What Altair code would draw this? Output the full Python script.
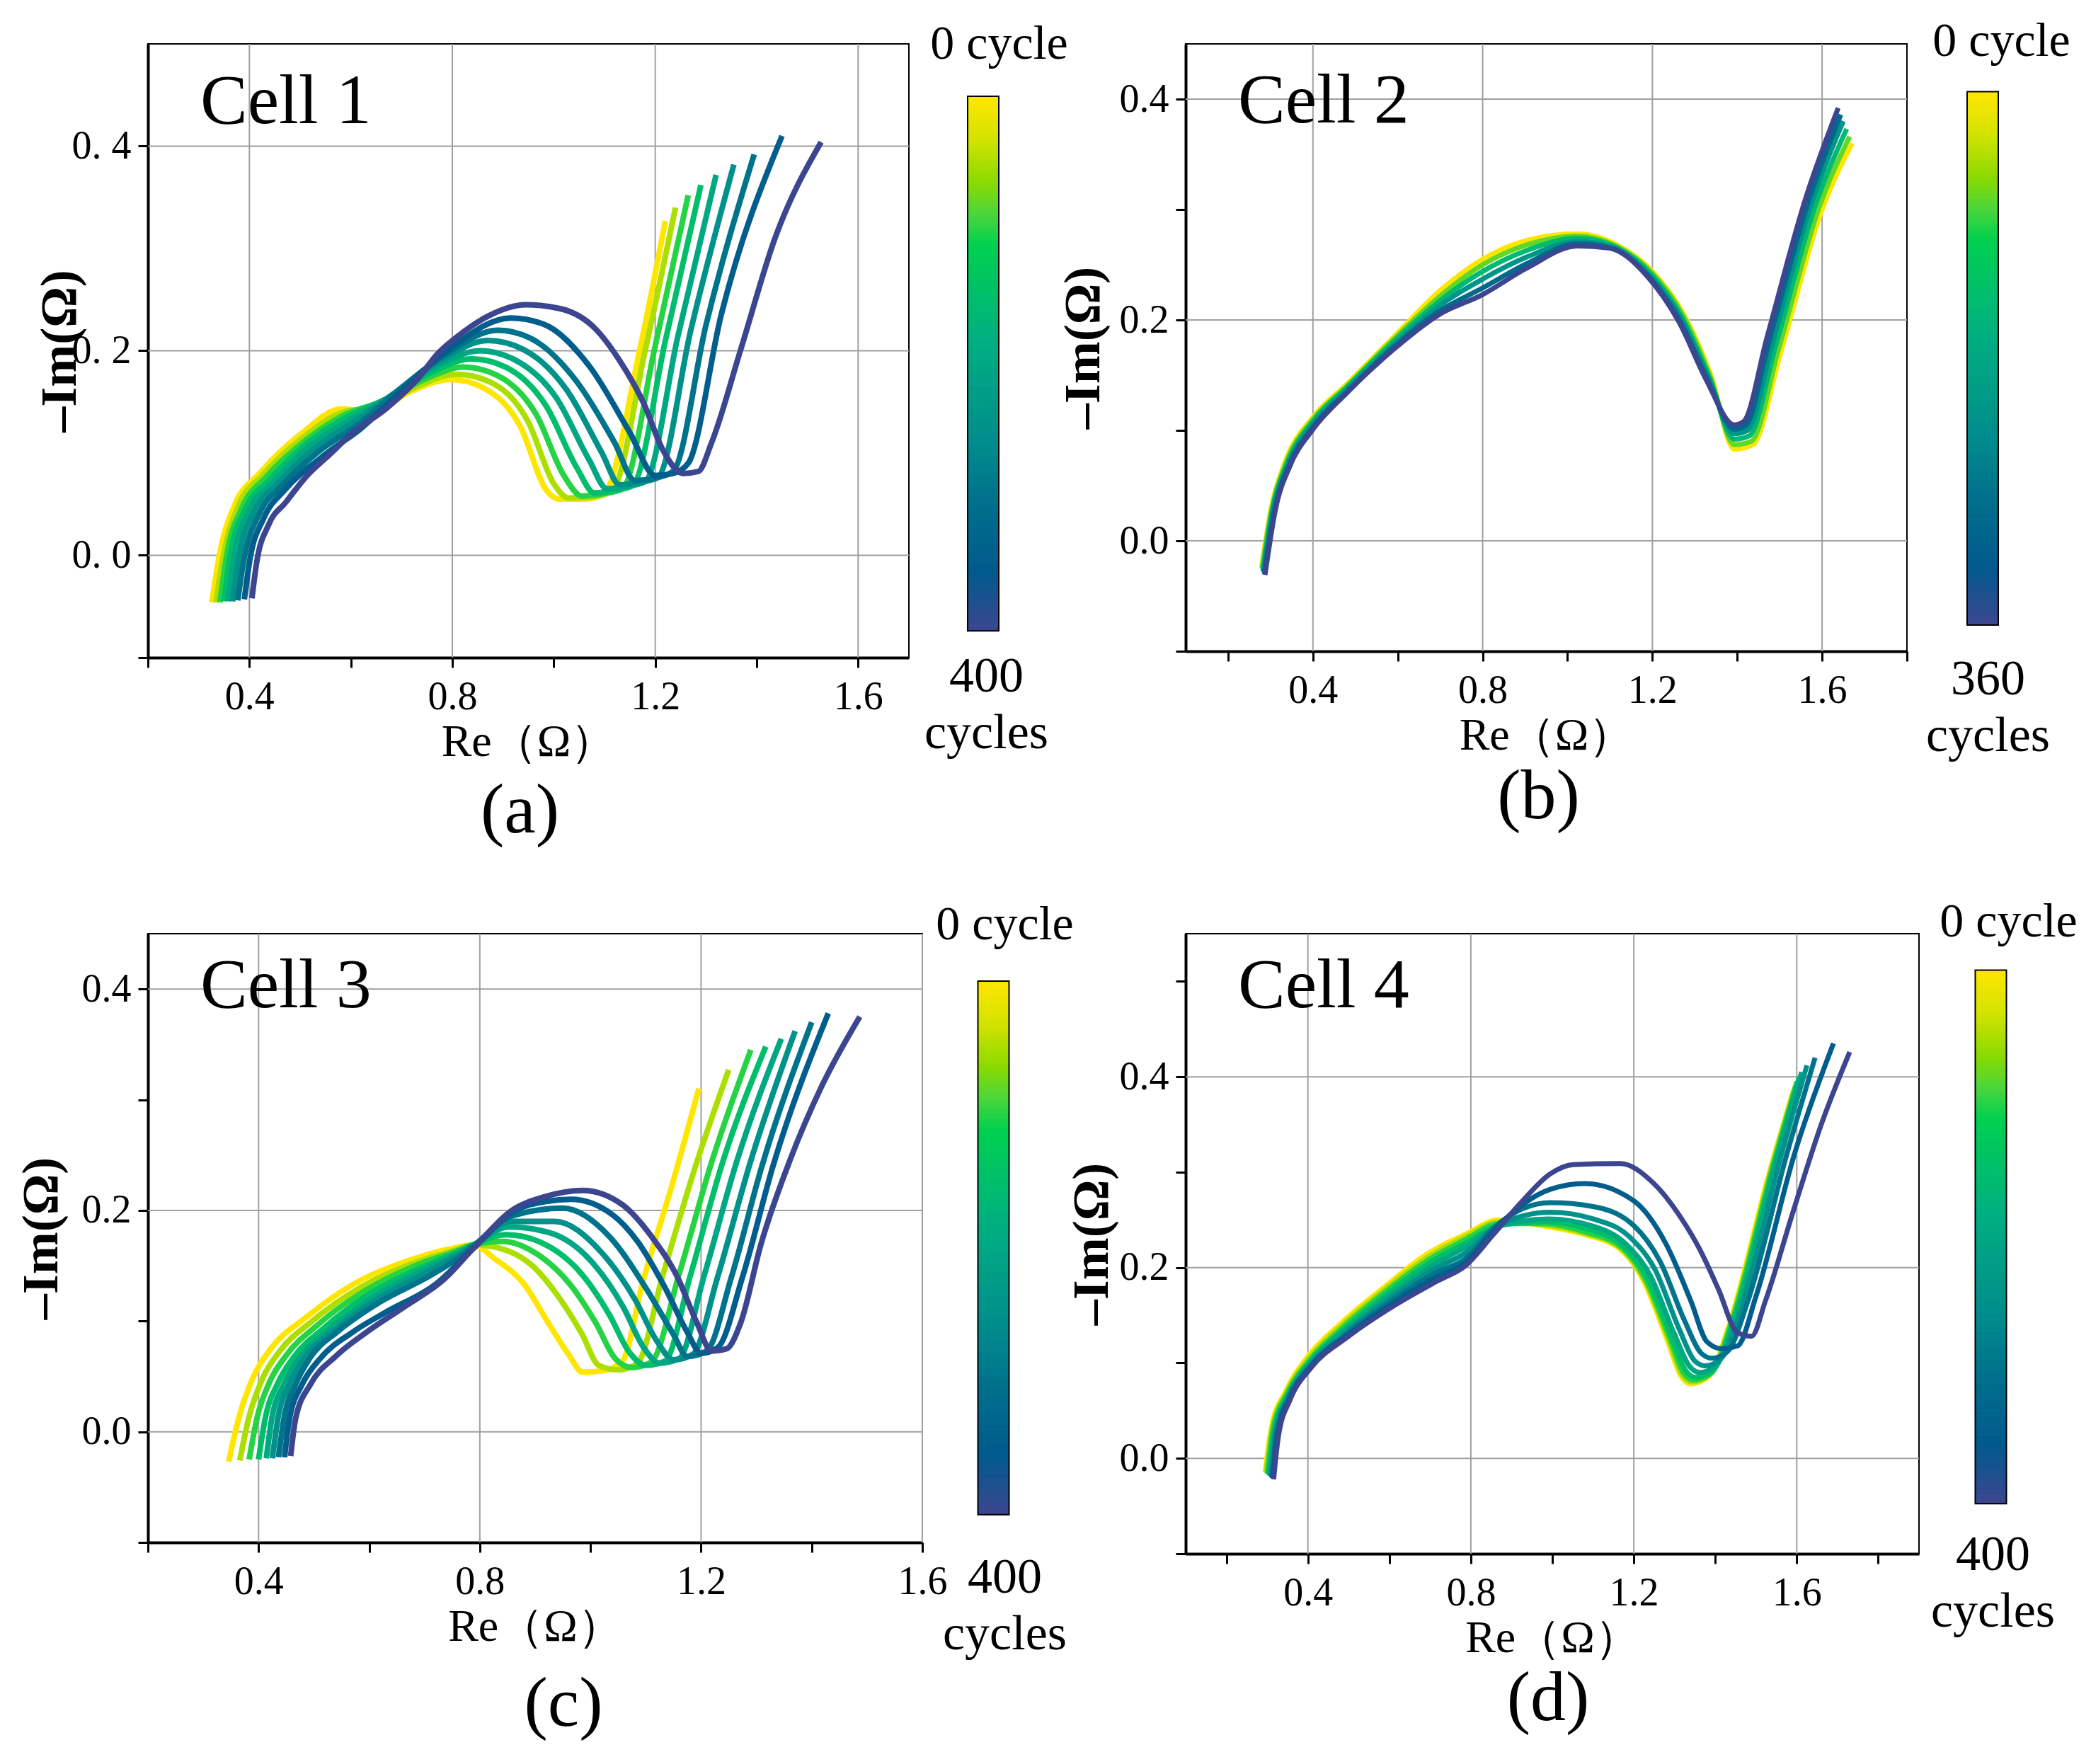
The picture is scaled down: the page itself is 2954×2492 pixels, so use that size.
import altair as alt
import pandas as pd

# ---------------- colour scale ----------------
COLOR_STOPS = [0.0, 0.08, 0.16, 0.22, 0.28, 0.45, 0.65, 0.77, 0.89, 1.0]
COLOR_HEX = ["#FFE600", "#D4E300", "#8CDA00", "#4CD63A", "#00D050",
             "#00B080", "#008C8C", "#006E8C", "#005A8C", "#3C4690"]

# ---------------- Cell 1 (0 ... 400 cycles) ----------------
C1_000_RE = [0.326, 0.342, 0.371, 0.420, 0.500, 0.582, 0.640, 0.717, 0.798, 0.860, 0.935, 0.985, 1.010, 1.062, 1.100, 1.167, 1.220]
C1_000_IM = [-0.046, 0.003, 0.049, 0.080, 0.118, 0.143, 0.140, 0.160, 0.172, 0.164, 0.125, 0.064, 0.055, 0.055, 0.061, 0.195, 0.327]
C1_050_RE = [0.334, 0.350, 0.378, 0.425, 0.505, 0.585, 0.650, 0.730, 0.808, 0.872, 0.950, 1.000, 1.030, 1.075, 1.115, 1.180, 1.240]
C1_050_IM = [-0.046, 0.003, 0.048, 0.078, 0.115, 0.140, 0.145, 0.165, 0.177, 0.170, 0.130, 0.070, 0.056, 0.057, 0.063, 0.200, 0.340]
C1_100_RE = [0.342, 0.356, 0.385, 0.432, 0.510, 0.590, 0.660, 0.745, 0.822, 0.888, 0.965, 1.020, 1.055, 1.095, 1.135, 1.200, 1.265]
C1_100_IM = [-0.046, 0.002, 0.046, 0.076, 0.112, 0.138, 0.150, 0.172, 0.184, 0.176, 0.138, 0.078, 0.058, 0.060, 0.065, 0.205, 0.352]
C1_150_RE = [0.350, 0.363, 0.392, 0.440, 0.515, 0.595, 0.670, 0.755, 0.838, 0.905, 0.985, 1.045, 1.080, 1.115, 1.155, 1.220, 1.290]
C1_150_IM = [-0.045, 0.002, 0.045, 0.074, 0.110, 0.136, 0.153, 0.178, 0.192, 0.184, 0.146, 0.086, 0.061, 0.063, 0.068, 0.210, 0.362]
C1_200_RE = [0.358, 0.371, 0.400, 0.448, 0.520, 0.600, 0.680, 0.765, 0.855, 0.920, 1.005, 1.070, 1.105, 1.140, 1.180, 1.245, 1.320]
C1_200_IM = [-0.045, 0.001, 0.044, 0.072, 0.107, 0.133, 0.156, 0.184, 0.200, 0.192, 0.154, 0.093, 0.065, 0.067, 0.072, 0.215, 0.372]
C1_250_RE = [0.367, 0.380, 0.410, 0.456, 0.527, 0.605, 0.690, 0.775, 0.870, 0.937, 1.025, 1.095, 1.130, 1.165, 1.205, 1.270, 1.355]
C1_250_IM = [-0.045, 0.000, 0.043, 0.070, 0.104, 0.130, 0.160, 0.190, 0.210, 0.202, 0.162, 0.100, 0.069, 0.071, 0.076, 0.220, 0.382]
C1_300_RE = [0.377, 0.390, 0.420, 0.464, 0.535, 0.612, 0.700, 0.785, 0.890, 0.955, 1.045, 1.120, 1.160, 1.195, 1.235, 1.300, 1.395]
C1_300_IM = [-0.044, -0.002, 0.041, 0.068, 0.101, 0.127, 0.164, 0.196, 0.220, 0.212, 0.170, 0.110, 0.073, 0.075, 0.082, 0.225, 0.392]
C1_350_RE = [0.390, 0.401, 0.428, 0.470, 0.545, 0.620, 0.715, 0.800, 0.915, 0.980, 1.070, 1.150, 1.200, 1.235, 1.265, 1.330, 1.450]
C1_350_IM = [-0.043, -0.004, 0.036, 0.064, 0.097, 0.124, 0.168, 0.204, 0.232, 0.226, 0.185, 0.120, 0.078, 0.080, 0.090, 0.235, 0.410]
C1_400_RE = [0.405, 0.414, 0.438, 0.472, 0.512, 0.557, 0.602, 0.671, 0.731, 0.771, 0.821, 0.871, 0.945, 1.014, 1.081, 1.129, 1.177, 1.215, 1.255, 1.285, 1.311, 1.369, 1.436, 1.527]
C1_400_IM = [-0.042, -0.008, 0.030, 0.052, 0.077, 0.098, 0.119, 0.144, 0.172, 0.197, 0.218, 0.234, 0.245, 0.241, 0.222, 0.191, 0.149, 0.103, 0.080, 0.082, 0.110, 0.202, 0.310, 0.404]

# ---------------- Cell 2 (0 ... 360 cycles) ----------------
C2_000_RE = [0.279, 0.301, 0.334, 0.400, 0.480, 0.589, 0.698, 0.800, 0.904, 1.024, 1.111, 1.200, 1.274, 1.339, 1.393, 1.437, 1.502, 1.600, 1.671]
C2_000_IM = [-0.024, 0.029, 0.071, 0.112, 0.142, 0.184, 0.226, 0.255, 0.272, 0.278, 0.269, 0.244, 0.205, 0.149, 0.083, 0.087, 0.170, 0.300, 0.360]
C2_072_RE = [0.280, 0.303, 0.336, 0.400, 0.480, 0.589, 0.698, 0.800, 0.904, 1.024, 1.109, 1.198, 1.272, 1.337, 1.393, 1.433, 1.497, 1.593, 1.665]
C2_072_IM = [-0.025, 0.029, 0.070, 0.110, 0.140, 0.182, 0.221, 0.250, 0.268, 0.276, 0.268, 0.243, 0.204, 0.148, 0.087, 0.090, 0.173, 0.302, 0.366]
C2_144_RE = [0.282, 0.305, 0.338, 0.400, 0.480, 0.589, 0.698, 0.800, 0.904, 1.024, 1.107, 1.195, 1.270, 1.335, 1.393, 1.428, 1.490, 1.585, 1.658]
C2_144_IM = [-0.027, 0.029, 0.069, 0.108, 0.139, 0.180, 0.217, 0.244, 0.263, 0.274, 0.267, 0.242, 0.202, 0.147, 0.092, 0.095, 0.176, 0.305, 0.373]
C2_216_RE = [0.283, 0.307, 0.340, 0.400, 0.480, 0.589, 0.698, 0.800, 0.904, 1.024, 1.105, 1.192, 1.268, 1.333, 1.393, 1.424, 1.483, 1.576, 1.650]
C2_216_IM = [-0.028, 0.029, 0.068, 0.106, 0.137, 0.177, 0.213, 0.237, 0.257, 0.271, 0.266, 0.241, 0.201, 0.147, 0.097, 0.100, 0.179, 0.307, 0.380]
C2_288_RE = [0.285, 0.310, 0.343, 0.400, 0.480, 0.589, 0.698, 0.800, 0.904, 1.024, 1.102, 1.190, 1.265, 1.330, 1.393, 1.419, 1.476, 1.569, 1.644]
C2_288_IM = [-0.030, 0.029, 0.068, 0.103, 0.135, 0.175, 0.208, 0.229, 0.251, 0.269, 0.265, 0.240, 0.199, 0.146, 0.101, 0.104, 0.182, 0.309, 0.386]
C2_360_RE = [0.287, 0.312, 0.345, 0.400, 0.480, 0.589, 0.698, 0.800, 0.904, 1.024, 1.100, 1.187, 1.263, 1.328, 1.393, 1.415, 1.470, 1.562, 1.638]
C2_360_IM = [-0.031, 0.029, 0.067, 0.101, 0.134, 0.173, 0.205, 0.223, 0.247, 0.267, 0.265, 0.240, 0.198, 0.145, 0.105, 0.108, 0.184, 0.311, 0.392]

# ---------------- Cell 3 (0 ... 400 cycles) ----------------
C3_000_RE = [0.346, 0.364, 0.391, 0.422, 0.485, 0.574, 0.673, 0.753, 0.789, 0.825, 0.879, 0.923, 0.959, 0.986, 1.022, 1.058, 1.094, 1.147, 1.196]
C3_000_IM = [-0.027, 0.012, 0.050, 0.075, 0.103, 0.134, 0.155, 0.166, 0.169, 0.157, 0.134, 0.099, 0.071, 0.054, 0.055, 0.064, 0.134, 0.222, 0.310]
C3_050_RE = [0.366, 0.382, 0.407, 0.437, 0.497, 0.583, 0.678, 0.755, 0.789, 0.835, 0.895, 0.945, 0.985, 1.015, 1.050, 1.085, 1.130, 1.190, 1.250]
C3_050_IM = [-0.026, 0.012, 0.048, 0.072, 0.100, 0.130, 0.152, 0.164, 0.169, 0.166, 0.150, 0.120, 0.088, 0.060, 0.056, 0.062, 0.140, 0.240, 0.327]
C3_100_RE = [0.383, 0.397, 0.421, 0.450, 0.508, 0.591, 0.683, 0.757, 0.789, 0.842, 0.905, 0.965, 1.010, 1.045, 1.075, 1.110, 1.160, 1.220, 1.290]
C3_100_IM = [-0.025, 0.012, 0.046, 0.069, 0.097, 0.127, 0.150, 0.163, 0.169, 0.172, 0.160, 0.132, 0.098, 0.066, 0.058, 0.063, 0.142, 0.245, 0.345]
C3_150_RE = [0.400, 0.412, 0.435, 0.463, 0.519, 0.599, 0.688, 0.759, 0.789, 0.848, 0.915, 0.985, 1.035, 1.070, 1.100, 1.135, 1.180, 1.240, 1.317]
C3_150_IM = [-0.025, 0.012, 0.044, 0.067, 0.094, 0.124, 0.147, 0.162, 0.169, 0.178, 0.170, 0.142, 0.105, 0.072, 0.060, 0.064, 0.140, 0.245, 0.348]
C3_200_RE = [0.414, 0.424, 0.446, 0.473, 0.528, 0.606, 0.693, 0.761, 0.789, 0.853, 0.925, 1.005, 1.060, 1.095, 1.125, 1.160, 1.205, 1.265, 1.345]
C3_200_IM = [-0.024, 0.012, 0.043, 0.066, 0.092, 0.121, 0.145, 0.161, 0.169, 0.185, 0.180, 0.152, 0.112, 0.077, 0.062, 0.066, 0.140, 0.245, 0.355]
C3_250_RE = [0.425, 0.435, 0.456, 0.482, 0.536, 0.612, 0.700, 0.762, 0.789, 0.856, 0.935, 1.020, 1.080, 1.120, 1.150, 1.185, 1.230, 1.290, 1.370]
C3_250_IM = [-0.024, 0.012, 0.043, 0.066, 0.091, 0.119, 0.143, 0.160, 0.168, 0.190, 0.190, 0.162, 0.120, 0.082, 0.065, 0.070, 0.140, 0.245, 0.362]
C3_300_RE = [0.436, 0.446, 0.467, 0.492, 0.544, 0.619, 0.710, 0.764, 0.789, 0.858, 0.950, 1.035, 1.100, 1.150, 1.175, 1.210, 1.255, 1.310, 1.400]
C3_300_IM = [-0.023, 0.012, 0.043, 0.066, 0.091, 0.117, 0.141, 0.158, 0.168, 0.195, 0.202, 0.176, 0.130, 0.088, 0.068, 0.073, 0.140, 0.240, 0.370]
C3_350_RE = [0.447, 0.456, 0.479, 0.511, 0.570, 0.630, 0.722, 0.789, 0.860, 0.920, 0.965, 1.040, 1.085, 1.135, 1.175, 1.200, 1.230, 1.275, 1.330, 1.430]
C3_350_IM = [-0.023, 0.012, 0.043, 0.066, 0.090, 0.108, 0.134, 0.166, 0.199, 0.208, 0.210, 0.196, 0.172, 0.130, 0.090, 0.071, 0.076, 0.140, 0.240, 0.378]
C3_400_RE = [0.458, 0.467, 0.494, 0.539, 0.601, 0.664, 0.736, 0.789, 0.861, 0.915, 0.986, 1.058, 1.111, 1.156, 1.192, 1.219, 1.246, 1.272, 1.308, 1.362, 1.416, 1.487]
C3_400_IM = [-0.022, 0.012, 0.043, 0.068, 0.092, 0.113, 0.138, 0.166, 0.201, 0.212, 0.218, 0.205, 0.176, 0.141, 0.099, 0.073, 0.075, 0.099, 0.169, 0.247, 0.310, 0.375]

# ---------------- Cell 4 (0 ... 400 cycles) ----------------
C4_000_RE = [0.295, 0.310, 0.345, 0.400, 0.477, 0.580, 0.695, 0.787, 0.868, 0.971, 1.075, 1.167, 1.224, 1.282, 1.316, 1.339, 1.385, 1.431, 1.534, 1.591]
C4_000_IM = [-0.014, 0.032, 0.070, 0.107, 0.140, 0.177, 0.215, 0.235, 0.250, 0.244, 0.235, 0.219, 0.186, 0.124, 0.086, 0.078, 0.086, 0.136, 0.302, 0.385]
C4_050_RE = [0.297, 0.312, 0.347, 0.402, 0.479, 0.582, 0.697, 0.789, 0.868, 0.975, 1.078, 1.168, 1.226, 1.284, 1.318, 1.342, 1.388, 1.436, 1.538, 1.596]
C4_050_IM = [-0.015, 0.031, 0.069, 0.105, 0.138, 0.175, 0.212, 0.233, 0.248, 0.245, 0.236, 0.220, 0.187, 0.126, 0.088, 0.080, 0.088, 0.140, 0.305, 0.390]
C4_100_RE = [0.300, 0.314, 0.349, 0.404, 0.482, 0.585, 0.699, 0.789, 0.868, 0.980, 1.082, 1.170, 1.228, 1.287, 1.321, 1.346, 1.392, 1.440, 1.542, 1.600]
C4_100_IM = [-0.016, 0.030, 0.068, 0.103, 0.136, 0.173, 0.209, 0.230, 0.246, 0.246, 0.237, 0.221, 0.188, 0.127, 0.090, 0.082, 0.090, 0.143, 0.308, 0.395]
C4_150_RE = [0.303, 0.317, 0.350, 0.405, 0.485, 0.590, 0.702, 0.789, 0.868, 0.985, 1.088, 1.175, 1.232, 1.292, 1.326, 1.352, 1.398, 1.446, 1.546, 1.606]
C4_150_IM = [-0.017, 0.029, 0.066, 0.101, 0.134, 0.171, 0.206, 0.226, 0.244, 0.248, 0.240, 0.222, 0.190, 0.128, 0.093, 0.085, 0.094, 0.147, 0.310, 0.400]
C4_200_RE = [0.306, 0.319, 0.351, 0.405, 0.488, 0.595, 0.705, 0.789, 0.866, 0.990, 1.095, 1.180, 1.240, 1.300, 1.336, 1.362, 1.405, 1.455, 1.550, 1.612]
C4_200_IM = [-0.018, 0.028, 0.065, 0.100, 0.133, 0.169, 0.202, 0.222, 0.243, 0.251, 0.244, 0.225, 0.192, 0.130, 0.097, 0.090, 0.099, 0.152, 0.312, 0.405]
C4_250_RE = [0.309, 0.321, 0.352, 0.406, 0.491, 0.600, 0.708, 0.789, 0.862, 0.995, 1.100, 1.190, 1.252, 1.312, 1.350, 1.375, 1.415, 1.465, 1.560, 1.625]
C4_250_IM = [-0.019, 0.027, 0.064, 0.098, 0.131, 0.167, 0.198, 0.216, 0.243, 0.258, 0.251, 0.232, 0.198, 0.135, 0.102, 0.097, 0.105, 0.158, 0.315, 0.412]
C4_300_RE = [0.311, 0.323, 0.353, 0.406, 0.494, 0.605, 0.711, 0.789, 0.860, 0.995, 1.100, 1.200, 1.265, 1.325, 1.366, 1.392, 1.430, 1.480, 1.575, 1.645]
C4_300_IM = [-0.020, 0.026, 0.063, 0.097, 0.130, 0.165, 0.194, 0.210, 0.243, 0.268, 0.264, 0.244, 0.206, 0.144, 0.110, 0.105, 0.112, 0.165, 0.318, 0.420]
C4_350_RE = [0.313, 0.325, 0.354, 0.407, 0.497, 0.610, 0.714, 0.789, 0.858, 0.995, 1.080, 1.200, 1.280, 1.340, 1.380, 1.415, 1.455, 1.500, 1.595, 1.690]
C4_350_IM = [-0.021, 0.025, 0.062, 0.096, 0.129, 0.163, 0.190, 0.206, 0.240, 0.282, 0.288, 0.270, 0.224, 0.165, 0.122, 0.115, 0.118, 0.170, 0.320, 0.435]
C4_400_RE = [0.316, 0.328, 0.356, 0.408, 0.500, 0.615, 0.718, 0.787, 0.856, 0.925, 0.994, 1.052, 1.167, 1.247, 1.316, 1.362, 1.408, 1.454, 1.489, 1.523, 1.592, 1.661, 1.730]
C4_400_IM = [-0.022, 0.024, 0.061, 0.095, 0.128, 0.161, 0.186, 0.202, 0.235, 0.269, 0.298, 0.308, 0.309, 0.289, 0.252, 0.219, 0.177, 0.132, 0.128, 0.165, 0.260, 0.351, 0.426]

CELL1 = [(0, C1_000_RE, C1_000_IM), (50, C1_050_RE, C1_050_IM), (100, C1_100_RE, C1_100_IM),
         (150, C1_150_RE, C1_150_IM), (200, C1_200_RE, C1_200_IM), (250, C1_250_RE, C1_250_IM),
         (300, C1_300_RE, C1_300_IM), (350, C1_350_RE, C1_350_IM), (400, C1_400_RE, C1_400_IM)]
CELL2 = [(0, C2_000_RE, C2_000_IM), (72, C2_072_RE, C2_072_IM), (144, C2_144_RE, C2_144_IM),
         (216, C2_216_RE, C2_216_IM), (288, C2_288_RE, C2_288_IM), (360, C2_360_RE, C2_360_IM)]
CELL3 = [(0, C3_000_RE, C3_000_IM), (50, C3_050_RE, C3_050_IM), (100, C3_100_RE, C3_100_IM),
         (150, C3_150_RE, C3_150_IM), (200, C3_200_RE, C3_200_IM), (250, C3_250_RE, C3_250_IM),
         (300, C3_300_RE, C3_300_IM), (350, C3_350_RE, C3_350_IM), (400, C3_400_RE, C3_400_IM)]
CELL4 = [(0, C4_000_RE, C4_000_IM), (50, C4_050_RE, C4_050_IM), (100, C4_100_RE, C4_100_IM),
         (150, C4_150_RE, C4_150_IM), (200, C4_200_RE, C4_200_IM), (250, C4_250_RE, C4_250_IM),
         (300, C4_300_RE, C4_300_IM), (350, C4_350_RE, C4_350_IM), (400, C4_400_RE, C4_400_IM)]

GRID_X = [0.4, 0.8, 1.2, 1.6]
GRID_Y = [0.0, 0.2, 0.4]
X_LABELS = [0.4, 0.8, 1.2, 1.6]
Y_LABELS = [0.0, 0.2, 0.4]
X_TICKS_AC = [0.2, 0.4, 0.6, 0.8, 1.0, 1.2, 1.4, 1.6]
X_TICKS_BD = [0.2, 0.4, 0.6, 0.8, 1.0, 1.2, 1.4, 1.6, 1.8]
Y_TICKS_A = [-0.1, 0.0, 0.2, 0.4]
Y_TICKS_BC = [-0.1, 0.0, 0.1, 0.2, 0.3, 0.4]
Y_TICKS_D = [-0.1, 0.0, 0.1, 0.2, 0.3, 0.4, 0.5]

FONT = "Liberation Serif, Times New Roman, serif"
CSCALE = alt.Scale(domain=COLOR_STOPS, range=COLOR_HEX, interpolate="rgb")


def make_df(curves, total):
    rows = []
    for cyc, re_list, im_list in curves:
        for i, (r, m) in enumerate(zip(re_list, im_list)):
            rows.append({"re": r, "im": m, "cycle": cyc, "frac": cyc / total, "i": i})
    return pd.DataFrame(rows)


def plot_panel(df, xdom, ydom, xticks, yticks, spaced, w, h, cell, cell_y, ytp,
               label, ldx, loff, sw):
    xs = alt.Scale(domain=xdom, nice=False, zero=False)
    ys = alt.Scale(domain=ydom, nice=False, zero=False)
    xlab = "indexof(%s, datum.value) >= 0 ? format(datum.value, '.1f') : ''" % str(X_LABELS)
    if spaced:
        ylab = ("indexof(%s, datum.value) >= 0 ? replace(format(datum.value, '.1f'), '.', '. ') : ''"
                % str(Y_LABELS))
    else:
        ylab = "indexof(%s, datum.value) >= 0 ? format(datum.value, '.1f') : ''" % str(Y_LABELS)
    xax = alt.Axis(values=xticks, labelExpr=xlab, grid=False, title="Re（Ω）",
                   labelOverlap=False, labelFlush=False, titleFontSize=64, titlePadding=4,
                   labelPadding=14, titleFontWeight="normal")
    yax = alt.Axis(values=yticks, labelExpr=ylab, grid=False, title="–Im(Ω)",
                   labelOverlap=False, labelFlush=False, titleFontSize=72,
                   titleFontWeight="bold", titlePadding=ytp, labelPadding=10)
    gv = alt.Chart(pd.DataFrame({"re": GRID_X})).mark_rule(color="#A0A0A0", strokeWidth=2).encode(
        x=alt.X("re:Q", scale=xs, axis=xax))
    gh = alt.Chart(pd.DataFrame({"im": GRID_Y})).mark_rule(color="#A0A0A0", strokeWidth=2).encode(
        y=alt.Y("im:Q", scale=ys, axis=yax))
    lines = alt.Chart(df).mark_line(strokeWidth=sw, interpolate="monotone").encode(
        x=alt.X("re:Q", scale=xs, axis=xax),
        y=alt.Y("im:Q", scale=ys, axis=yax),
        color=alt.Color("frac:Q", scale=CSCALE, legend=None),
        detail="cycle:N",
        order=alt.Order("i:Q"),
    )
    name = alt.Chart(pd.DataFrame({"t": [cell]})).mark_text(
        align="left", baseline="alphabetic", font=FONT, fontSize=100, color="black"
    ).encode(text="t:N", x=alt.value(74), y=alt.value(cell_y))
    return alt.layer(gv, gh, lines, name).properties(
        width=w, height=h,
        title=alt.TitleParams(label, orient="bottom", anchor="middle", frame="group", offset=loff,
                              dx=ldx, fontSize=100, font=FONT, fontWeight="normal", color="black"),
        view=alt.ViewBackground(stroke="black", strokeWidth=2),
    )


FR = [k / 200 for k in range(201)]


def colorbar(ydom, h, w, off, bottom_num, top_x, top_y, bot_pad, bot_x):
    cb = pd.DataFrame({"x0": [0.0] * 200, "x1": [1.0] * 200, "lo": FR[:-1], "hi": FR[1:],
                       "frac": [(a + b) / 2 for a, b in zip(FR[:-1], FR[1:])]})
    frame = pd.DataFrame({"x0": [0.0], "x1": [1.0], "lo": [FR[0]], "hi": [FR[-1]]})
    ys = alt.Scale(domain=ydom, reverse=True, nice=False, zero=False)
    xs = alt.Scale(domain=[-off / 44.0, (w - off) / 44.0], nice=False, zero=False)
    xax = alt.Axis(title=[bottom_num, "cycles"], labels=False, ticks=False, domain=False, grid=False,
                   titlePadding=bot_pad, titleFontSize=70, titleLineHeight=80,
                   titleFontWeight="normal", titleX=bot_x)
    yax = alt.Axis(title="0 cycle", labels=False, ticks=False, domain=False, grid=False,
                   titleAngle=0, titleAlign="center", titleBaseline="alphabetic",
                   titleX=top_x, titleY=top_y, titleFontSize=68, titleFontWeight="normal")
    grad = alt.Chart(cb).mark_rect(strokeWidth=1).encode(
        x=alt.X("x0:Q", axis=xax, scale=xs), x2="x1:Q",
        y=alt.Y("lo:Q", scale=ys, axis=yax), y2="hi:Q",
        color=alt.Color("frac:Q", scale=CSCALE, legend=None),
        stroke=alt.Stroke("frac:Q", scale=CSCALE, legend=None),
    )
    box = alt.Chart(frame).mark_rect(fillOpacity=0, stroke="black", strokeWidth=2).encode(
        x=alt.X("x0:Q", axis=xax, scale=xs), x2="x1:Q",
        y=alt.Y("lo:Q", scale=ys, axis=yax), y2="hi:Q",
    )
    return alt.layer(grad, box).properties(
        width=w, height=h,
        view=alt.ViewBackground(strokeWidth=0, strokeOpacity=0),
    )


pa = plot_panel(make_df(CELL1, 400), [0.2, 1.7], [-0.1, 0.5], X_TICKS_AC, Y_TICKS_A, True,
                1075, 867, "Cell 1", 112, -20, "(a)", -12, 17, 8)
pb = plot_panel(make_df(CELL2, 360), [0.1, 1.8], [-0.1, 0.45], X_TICKS_BD, Y_TICKS_BC, False,
                1019, 858, "Cell 2", 111, 14, "(b)", -11, 6, 7)
pc = plot_panel(make_df(CELL3, 400), [0.2, 1.6], [-0.1, 0.45], X_TICKS_AC, Y_TICKS_BC, False,
                1094, 860, "Cell 3", 104, 20, "(c)", 40, 29, 8)
pd_ = plot_panel(make_df(CELL4, 400), [0.1, 1.9], [-0.1, 0.55], X_TICKS_BD, Y_TICKS_D, False,
                 1036, 876, "Cell 4", 104, 2, "(d)", -6, 5, 7)

ca = colorbar([-0.098, 1.050], 867, 244, 0.0, "400", 44, 20, -8, 26)
cbb = colorbar([-0.0896, 1.049], 858, 60, 4.0, "360", 52, 16, 5, 33)
cc = colorbar([-0.0889, 1.052], 860, 244, 14.5, "400", 52, 7, 15, 52)
cd = colorbar([-0.0683, 1.094], 876, 60, 15.5, "400", 62, 3, -33, 40)

chart = alt.concat(pa, ca, pb, cbb, pc, cc, pd_, cd, columns=4,
                   spacing={"row": 390, "column": 64}, bounds="flush", align="each").properties(
    padding={"left": 13, "top": 16, "right": 5, "bottom": 5}
).configure_view(stroke="black", strokeWidth=2).configure_axis(
    labelFont=FONT, labelFontSize=56, labelColor="black",
    titleFont=FONT, titleColor="black",
    tickColor="black", tickWidth=3, tickSize=14,
    domainColor="black", domainWidth=4,
).configure_title(font=FONT, color="black")

chart.save("out.html", embed_options={"renderer": "svg", "actions": False})
